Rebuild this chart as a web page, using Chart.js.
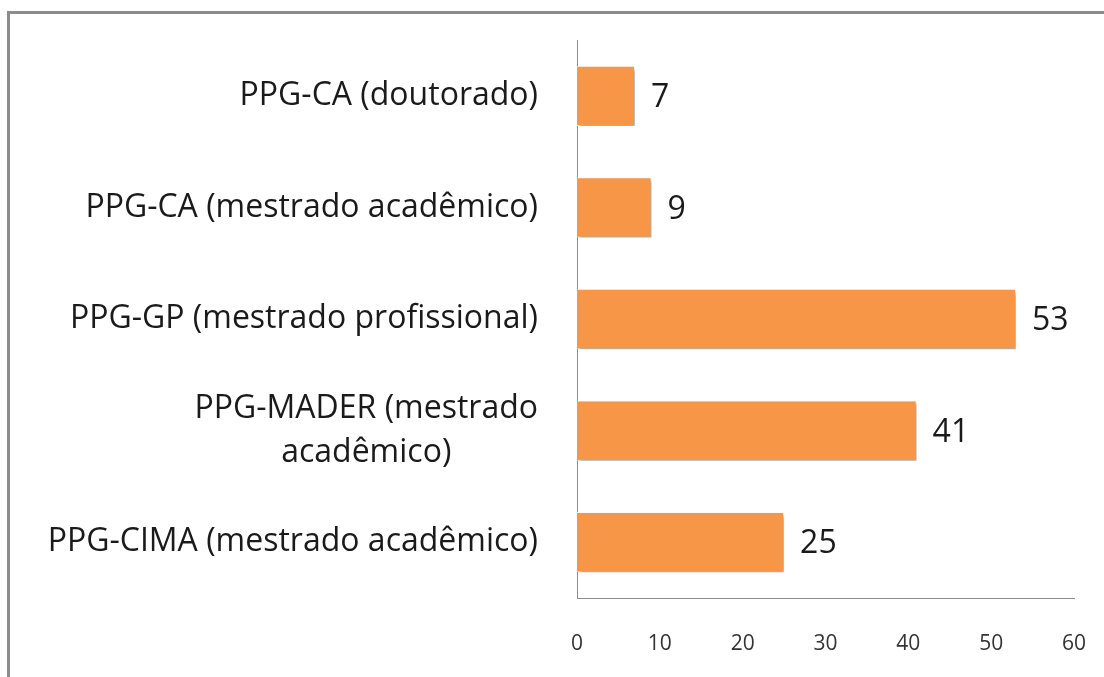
<!DOCTYPE html>
<html>
<head>
<meta charset="utf-8">
<script src="https://cdn.jsdelivr.net/npm/chart.js@4"></script>
<style>
  body { margin: 0; background: #fff; }
  #wrap { position: relative; width: 1104px; height: 677px; overflow: hidden; }
  #frame { position: absolute; left: 7px; top: 11px; width: 1200px; height: 800px;
           border-left: 3px solid #8c8c8c; border-top: 3px solid #8c8c8c; }
  canvas { position: absolute; left: 0; top: 0; }
</style>
</head>
<body>
<div id="wrap">
  <div id="frame"></div>
  <canvas id="chart" width="1104" height="677"></canvas>
</div>
<script>
const categories = [
  'PPG-CA (doutorado)',
  'PPG-CA (mestrado acadêmico)',
  'PPG-GP (mestrado profissional)',
  ['PPG-MADER (mestrado', 'acadêmico)'],
  'PPG-CIMA (mestrado acadêmico)'
];
const values = [7, 9, 53, 41, 25];
const xTicks = [0, 10, 20, 30, 40, 50, 60];

const labelFont = '32px "Open Sans"';

// bar shadow + value labels + category labels
const decor = {
  id: 'decor',
  beforeDatasetsDraw(chart) {
    const ctx = chart.ctx;
    ctx.save();
    ctx.shadowColor = 'rgba(0,0,0,0.35)';
    ctx.shadowBlur = 4;
    ctx.shadowOffsetX = 2;
    ctx.shadowOffsetY = 3;
  },
  afterDatasetsDraw(chart) {
    const ctx = chart.ctx;
    ctx.restore();
    ctx.save();
    ctx.font = labelFont;
    ctx.fillStyle = '#1a1a1a';
    ctx.textBaseline = 'middle';
    ctx.textAlign = 'left';
    chart.getDatasetMeta(0).data.forEach((bar, i) => {
      ctx.fillText(String(values[i]), bar.x + 16, bar.y + 2);
    });
    // category labels
    const yScale = chart.scales.y;
    const right = chart.chartArea.left - 39;
    ctx.textAlign = 'center';
    categories.forEach((lab, i) => {
      const lines = Array.isArray(lab) ? lab : [lab];
      const w = Math.max(...lines.map(l => ctx.measureText(l).width));
      const cx = right - w / 2;
      const cy = yScale.getPixelForValue(i);
      const lh = 44;
      lines.forEach((l, j) => {
        ctx.fillText(l, cx, cy + (j - (lines.length - 1) / 2) * lh);
      });
    });
    ctx.restore();
  }
};

new Chart(document.getElementById('chart'), {
  type: 'bar',
  data: {
    labels: categories,
    datasets: [{
      data: values,
      backgroundColor: '#F79646',
      borderColor: '#ffffff',
      borderWidth: 1,
      categoryPercentage: 1,
      barPercentage: 0.54
    }]
  },
  options: {
    indexAxis: 'y',
    responsive: false,
    animation: false,
    layout: { padding: { top: 40, right: 30, left: 0, bottom: 0 } },
    plugins: { legend: { display: false }, tooltip: { enabled: false } },
    scales: {
      x: {
        min: 0, max: 60,
        afterBuildTicks(scale) { scale.ticks = xTicks.map(v => ({ value: v })); },
        afterFit(scale) {
          scale.height = 79;
          scale.paddingLeft = 0;
          scale.paddingRight = 0;
        },
        grid: { display: false, drawTicks: false },
        border: { display: true, color: '#8c8c8c', width: 1 },
        ticks: { color: '#333', font: { family: 'Open Sans', size: 21 }, padding: 33 }
      },
      y: {
        afterFit(scale) { scale.width = 577; },
        grid: { display: false, drawTicks: false },
        border: { display: true, color: '#8c8c8c', width: 1 },
        ticks: { display: false }
      }
    }
  },
  plugins: [decor]
});
</script>
</body>
</html>
